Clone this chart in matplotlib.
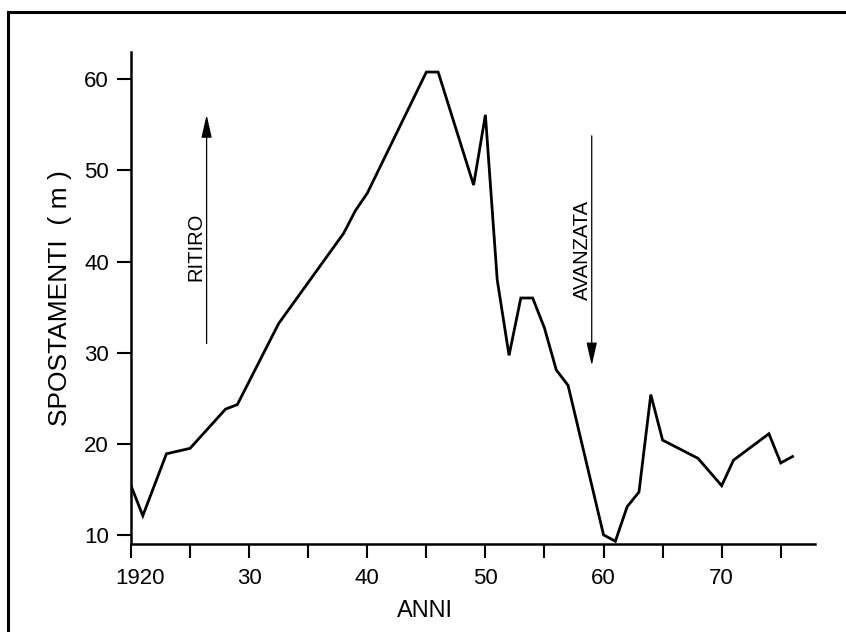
import matplotlib
matplotlib.use("Agg")
import matplotlib.pyplot as plt
import matplotlib.transforms as mtransforms
from matplotlib.lines import Line2D

plt.rcParams['font.family'] = ['Liberation Sans', 'DejaVu Sans']

# Glacier front displacement record
years = [1920, 1921, 1923, 1925, 1928, 1929, 1932.5, 1938, 1939, 1940,
         1945, 1946, 1949, 1950, 1951, 1952, 1953, 1954, 1955, 1956,
         1957, 1960, 1961, 1962, 1963, 1964, 1965, 1968, 1970, 1971,
         1974, 1975, 1976]
displacement = [15.4, 12.1, 18.9, 19.5, 23.8, 24.3, 33.2, 43.1, 45.6, 47.5,
                60.8, 60.8, 48.4, 56.1, 38.0, 29.7, 36.0, 36.0, 32.7, 28.1,
                26.4, 10.0, 9.3, 13.1, 14.7, 25.4, 20.4, 18.4, 15.4, 18.2,
                21.1, 17.9, 18.6]

x_major = [1920, 1930, 1940, 1950, 1960, 1970]
x_major_labels = ['1920', '30', '40', '50', '60', '70']
x_minor = [1925, 1935, 1945, 1955, 1965, 1975]
y_ticks = [10, 20, 30, 40, 50, 60]

fig = plt.figure(figsize=(8.46, 6.32), dpi=100)
ax = fig.add_axes([131 / 846, 1 - 544 / 632, (815 - 131) / 846, (544 - 52) / 632])

ax.plot(years, displacement, color='black', lw=2.0, solid_joinstyle='miter')

ax.set_xlim(1920, 1977.9)
ax.set_ylim(9.0, 63.0)

for side in ('top', 'right'):
    ax.spines[side].set_visible(False)
for side in ('left', 'bottom'):
    ax.spines[side].set_linewidth(1.8)

ax.set_xticks(x_major)
ax.set_xticklabels(x_major_labels)
ax.set_xticks(x_minor, minor=True)
ax.set_yticks(y_ticks)
ax.tick_params(axis='both', which='both', direction='out', length=10,
               width=1.5, color='black', labelsize=16)
ax.tick_params(axis='x', which='major', pad=7)
ax.tick_params(axis='y', which='major', pad=6)

# nudge the "1920" label a little to the right
first = ax.get_xticklabels()[0]
first.set_transform(first.get_transform() +
                    mtransforms.ScaledTranslation(9 / 100, 0, fig.dpi_scale_trans))

ax.set_xlabel('ANNI', fontsize=17)
ax.xaxis.set_label_coords((425 - 131) / (815 - 131), -56 / (544 - 52))
ax.set_ylabel('SPOSTAMENTI  ( m )', fontsize=19)
ax.yaxis.set_label_coords(-(131 - 72) / (815 - 131), 0.5)

# retreat / advance arrows
arrow_kw = dict(arrowstyle='-|>,head_length=0.7,head_width=0.16',
                color='black', lw=0.9, mutation_scale=20,
                shrinkA=0, shrinkB=0)
ax.annotate('', xy=(1926.4, 56.1), xytext=(1926.4, 31.0), arrowprops=arrow_kw)
ax.annotate('', xy=(1959.0, 28.6), xytext=(1959.0, 53.8), arrowprops=arrow_kw)
ax.text(1925.5, 41.6, 'RITIRO', rotation=90, fontsize=14.5,
        ha='center', va='center')
ax.text(1958.25, 41.3, 'AVANZATA', rotation=90, fontsize=14.5,
        ha='center', va='center')

# page frame
fig.add_artist(Line2D([8 / 846, 8 / 846], [0, 1 - 12 / 632],
                      transform=fig.transFigure, color='black', lw=2.2))
fig.add_artist(Line2D([8 / 846, 1], [1 - 12 / 632, 1 - 12 / 632],
                      transform=fig.transFigure, color='black', lw=2.2))

fig.savefig('out.png', dpi=100)
